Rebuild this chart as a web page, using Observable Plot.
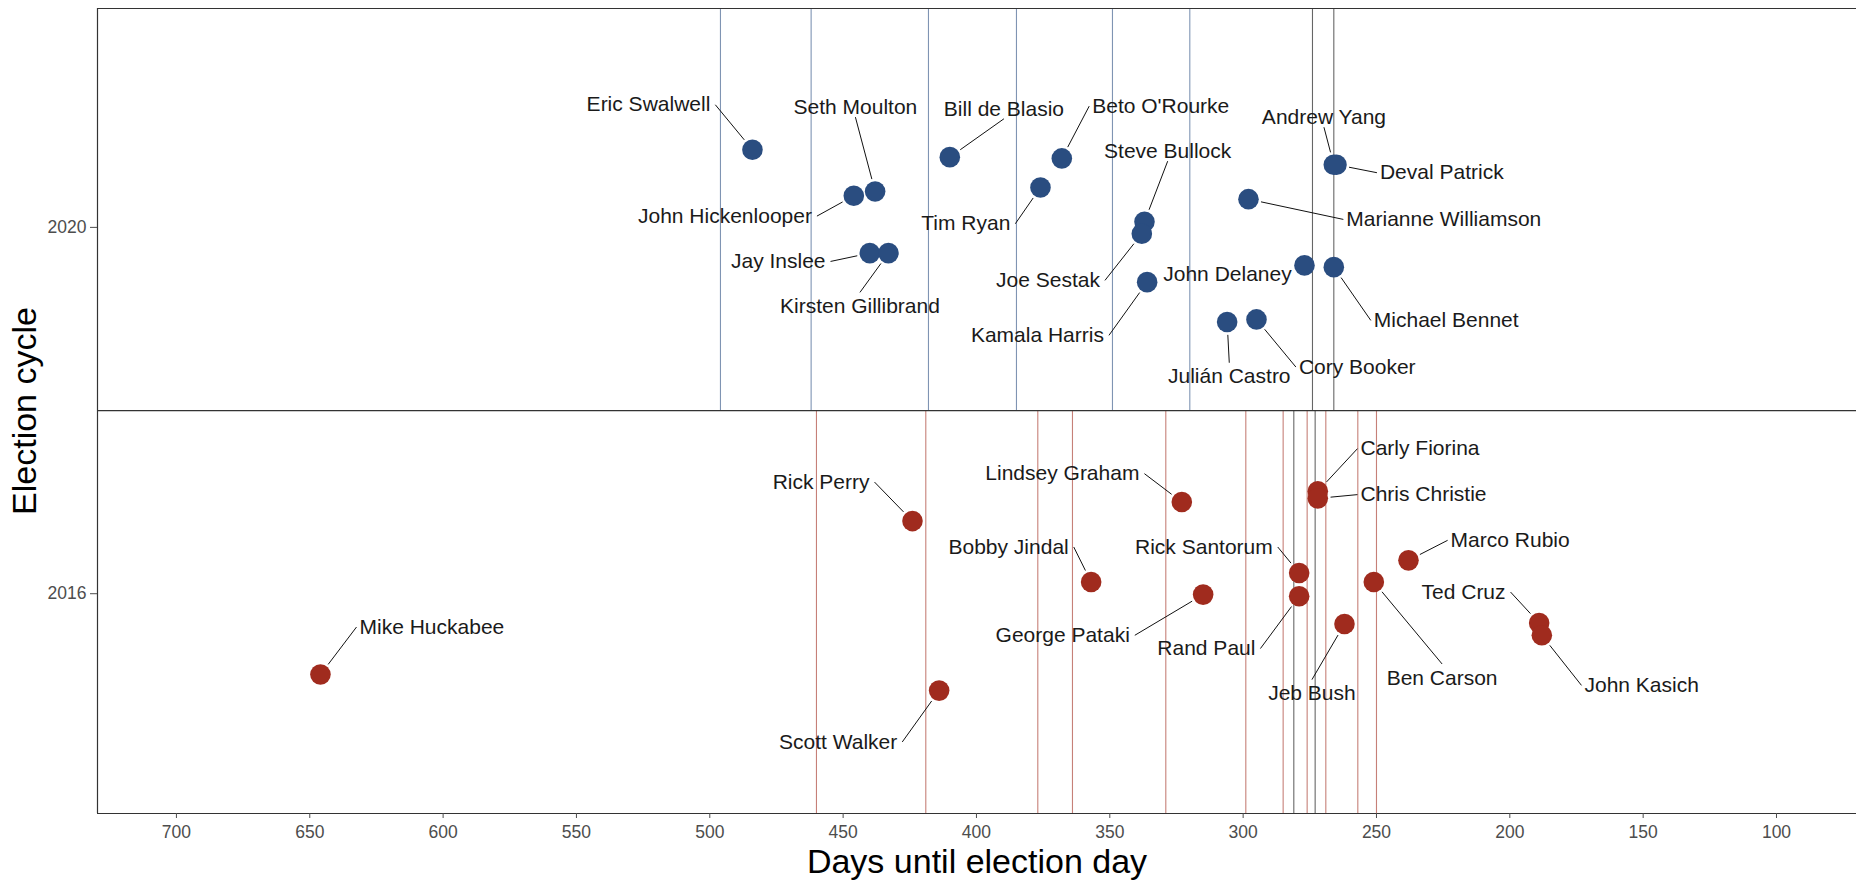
<!DOCTYPE html>
<html>
<head>
<meta charset="utf-8">
<script src="https://cdn.jsdelivr.net/npm/d3@7"></script>
<script src="https://cdn.jsdelivr.net/npm/@observablehq/plot@0.6"></script>
<style>
  html, body { margin: 0; padding: 0; background: #fff; }
  #chart svg { display: block; }
</style>
</head>
<body>
<div id="chart"></div>
<script>
// ---------------- data ----------------
const names = [
  "Eric Swalwell", "John Hickenlooper", "Seth Moulton", "Jay Inslee", "Kirsten Gillibrand",
  "Bill de Blasio", "Tim Ryan", "Beto O'Rourke", "Steve Bullock", "Joe Sestak",
  "Kamala Harris", "Julián Castro", "Marianne Williamson", "Cory Booker", "John Delaney",
  "Andrew Yang", "Michael Bennet", "Deval Patrick",
  "Mike Huckabee", "Rick Perry", "Scott Walker", "Bobby Jindal", "Lindsey Graham",
  "George Pataki", "Rick Santorum", "Rand Paul", "Carly Fiorina", "Chris Christie",
  "Jeb Bush", "Ben Carson", "Marco Rubio", "Ted Cruz", "John Kasich"
];
const cycles = [
  2020, 2020, 2020, 2020, 2020, 2020, 2020, 2020, 2020, 2020, 2020, 2020, 2020, 2020, 2020, 2020, 2020, 2020,
  2016, 2016, 2016, 2016, 2016, 2016, 2016, 2016, 2016, 2016, 2016, 2016, 2016, 2016, 2016
];
// days until election day when the candidate dropped out
const days = [
  484, 446, 438, 440, 433, 410, 376, 368, 337, 338, 336, 306, 298, 295, 277, 266, 266, 265,
  646, 424, 414, 357, 323, 315, 279, 279, 272, 272, 262, 251, 238, 189, 188
];
// jittered vertical position (election cycle + jitter)
const yJit = [
  2020.848, 2020.345, 2020.392, 2019.719, 2019.719, 2020.767, 2020.436, 2020.753, 2020.062, 2019.931,
  2019.402, 2018.966, 2020.308, 2018.995, 2019.585, 2020.684, 2019.566, 2020.684,
  2015.117, 2016.793, 2014.942, 2016.128, 2017.001, 2015.990, 2016.226, 2015.972, 2017.118, 2017.041,
  2015.669, 2016.128, 2016.364, 2015.680, 2015.546
];
// repelled label placement (days, cycle units) and side of the label the leader attaches to
const labelDay = [
  499.8, 461.7, 445.4, 456.6, 443.7, 389.7, 387.3, 356.6, 328.3, 353.7,
  352.2, 305.2, 261.3, 279.1, 281.8, 269.7, 251.0, 248.7,
  631.35, 440.1, 429.7, 365.4, 338.9, 342.5, 288.9, 295.4, 256.0, 256.0,
  274.2, 225.4, 222.2, 201.6, 172.0
];
const labelYr = [
  2021.339, 2020.123, 2021.313, 2019.628, 2019.137, 2021.295, 2020.040, 2021.324, 2020.832, 2019.421,
  2018.821, 2018.369, 2020.087, 2018.475, 2019.486, 2021.203, 2018.984, 2020.597,
  2015.636, 2017.219, 2014.381, 2016.510, 2017.311, 2015.546, 2016.510, 2015.401, 2017.584, 2017.082,
  2014.909, 2015.080, 2016.583, 2016.018, 2014.999
];
const labelSide = [
  "R", "R", "B", "R", "T", "B", "R", "L", "B", "R",
  "R", "T", "L", "L", "R", "B", "L", "L",
  "L", "R", "R", "R", "R", "R", "R", "R", "L", "L",
  "T", "T", "L", "R", "L"
];

const blueLines = [496, 462, 418, 385, 349, 320];           // 2020 debates
const redLines = [460, 419, 377, 364, 329, 299, 285, 276, 269, 257, 250]; // 2016 debates
const blackLines2020 = [274, 266];                           // Iowa / New Hampshire 2020
const blackLines2016 = [281, 273];                           // Iowa / New Hampshire 2016

const xTicks = [700, 650, 600, 550, 500, 450, 400, 350, 300, 250, 200, 150, 100];
const yTicks = [2016, 2020];
const xDomain = [729.6, 70];
const yDomain = [2013.6, 2022.39];
const panelSplit = 2018;

const partyColor = {2020: "#2a4d80", 2016: "#a02b1e"};

// ---------------- layout ----------------
const W = 1856, H = 880;
const mL = 97, mR = 0, mT = 8, mB = 67;
const R = 10.3;

const rows = names.map((n, i) => ({
  name: n, cycle: cycles[i], day: days[i], y: yJit[i],
  lday: labelDay[i], ly: labelYr[i], side: labelSide[i]
}));

// helper scales identical to those of the plot (used for leader lines)
function mkScale(key, domain, range) {
  try {
    const s = Plot.scale({[key]: {type: "linear", domain, range}});
    if (s && s.apply && s.invert) return s;
  } catch (e) {}
  const l = d3.scaleLinear(domain, range);
  return {apply: l, invert: l.invert};
}
const xs = mkScale("x", xDomain, [mL, W - mR]);
const ys = mkScale("y", yDomain, [H - mB, mT]);

const leaders = [];
for (const r of rows) {
  const px = xs.apply(r.day), py = ys.apply(r.y);
  let ex = xs.apply(r.lday), ey = ys.apply(r.ly);
  if (r.side === "L") ex -= 3;
  else if (r.side === "R") ex += 5;
  else if (r.side === "T") ey -= 14;
  else if (r.side === "B") ey += 10;
  const dx = ex - px, dy = ey - py, d = Math.hypot(dx, dy);
  if (d < 18) continue;
  const sx = px + dx * (R + 2.5) / d, sy = py + dy * (R + 2.5) / d;
  leaders.push({x1: xs.invert(sx), y1: ys.invert(sy), x2: xs.invert(ex), y2: ys.invert(ey)});
}

const txtFont = 21;
const labelColor = "#1a1a1a";

const chart = Plot.plot({
  width: W, height: H,
  marginLeft: mL, marginRight: mR, marginTop: mT, marginBottom: mB,
  style: {fontFamily: "'Liberation Sans', Arial, sans-serif", background: "#fff"},
  x: {domain: xDomain, ticks: xTicks, label: null},
  y: {domain: yDomain, ticks: yTicks, label: null},
  marks: [
    // debate lines
    Plot.ruleX(blueLines, {x: d => d, y1: panelSplit, y2: yDomain[1], stroke: partyColor[2020], strokeOpacity: 0.6, strokeWidth: 1.1}),
    Plot.ruleX(redLines, {x: d => d, y1: yDomain[0], y2: panelSplit, stroke: partyColor[2016], strokeOpacity: 0.6, strokeWidth: 1.1}),
    Plot.ruleX(blackLines2020, {x: d => d, y1: panelSplit, y2: yDomain[1], stroke: "#000", strokeOpacity: 0.6, strokeWidth: 1.1}),
    Plot.ruleX(blackLines2016, {x: d => d, y1: yDomain[0], y2: panelSplit, stroke: "#000", strokeOpacity: 0.6, strokeWidth: 1.1}),
    // panel borders
    Plot.ruleY([yDomain[1], panelSplit, yDomain[0]], {y: d => d, stroke: "#333", strokeWidth: 1.2}),
    Plot.ruleX([xDomain[0]], {x: d => d, stroke: "#333", strokeWidth: 1.2}),
    // axes
    Plot.axisX({ticks: xTicks, tickSize: 5, tickPadding: 7, fontSize: 17.5, color: "#4d4d4d", tickFormat: d => String(d)}),
    Plot.axisY({ticks: yTicks, tickSize: 7, tickPadding: 4, fontSize: 17.5, color: "#4d4d4d", tickFormat: d => String(d)}),
    // points
    Plot.dot(rows, {x: "day", y: "y", r: R, fill: d => partyColor[d.cycle], stroke: null}),
    // leader lines
    Plot.link(leaders, {x1: "x1", y1: "y1", x2: "x2", y2: "y2", stroke: "#111", strokeWidth: 1}),
    // labels
    Plot.text(rows.filter(d => d.side === "L"), {x: "lday", y: "ly", text: "name", textAnchor: "start", fontSize: txtFont, fill: labelColor}),
    Plot.text(rows.filter(d => d.side === "R"), {x: "lday", y: "ly", text: "name", textAnchor: "end", fontSize: txtFont, fill: labelColor}),
    Plot.text(rows.filter(d => d.side === "T" || d.side === "B"), {x: "lday", y: "ly", text: "name", textAnchor: "middle", fontSize: txtFont, fill: labelColor}),
    // axis titles
    Plot.text(["Days until election day"], {frameAnchor: "bottom", textAnchor: "middle", lineAnchor: "middle", dy: 49, fontSize: 34, fill: "#000"}),
    Plot.text(["Election cycle"], {frameAnchor: "left", textAnchor: "middle", lineAnchor: "middle", dx: -72, rotate: -90, fontSize: 34, fill: "#000"})
  ]
});
document.getElementById("chart").appendChild(chart);
</script>
</body>
</html>
